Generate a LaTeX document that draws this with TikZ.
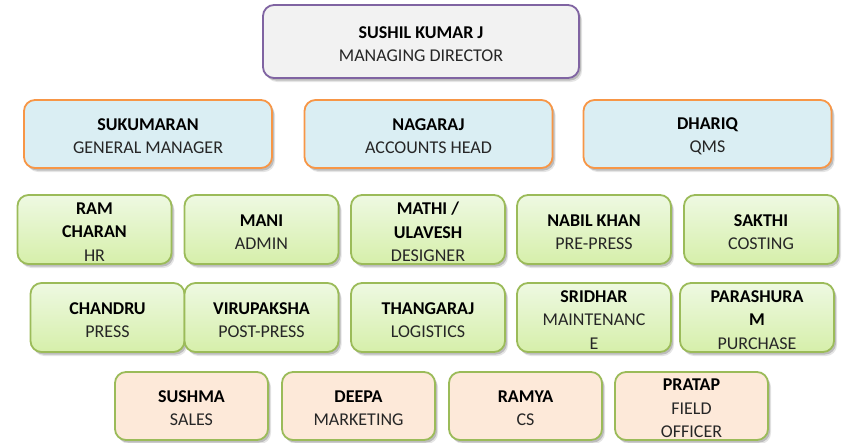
\documentclass[tikz,border=0pt]{standalone}
\usepackage{fontspec}
\setmainfont{Carlito}
\usetikzlibrary{shadows}
\definecolor{graybox}{HTML}{F2F2F2}
\definecolor{purpleline}{HTML}{8064A2}
\definecolor{bluebox}{HTML}{DAEEF3}
\definecolor{orangeline}{HTML}{F79646}
\definecolor{greentop}{HTML}{EEF9E2}
\definecolor{greenbot}{HTML}{D6EFAA}
\definecolor{greenline}{HTML}{9BBB59}
\definecolor{peachbox}{HTML}{FDE9D9}
\definecolor{titletext}{HTML}{262626}
\tikzset{
  boxbase/.style={rectangle, rounded corners=11pt, line width=1.8pt, inner sep=0pt,
    drop shadow={shadow xshift=3pt, shadow yshift=-4pt, opacity=.10, fill=black},
    drop shadow={shadow xshift=2pt, shadow yshift=-2.5pt, opacity=.18, fill=black}},
  topbox/.style={boxbase, draw=purpleline, fill=graybox, minimum width=316pt, minimum height=73pt},
  mgrbox/.style={boxbase, draw=orangeline, fill=bluebox, minimum width=248pt, minimum height=68pt},
  staffbox/.style={boxbase, draw=greenline, top color=greentop, bottom color=greenbot, minimum width=154pt, minimum height=69pt},
  salesbox/.style={boxbase, draw=greenline, fill=peachbox, minimum width=153pt, minimum height=68pt},
  txt/.style={align=center, inner sep=0pt, text=titletext, yshift=-2.5pt, font=\fontsize{18}{23.3}\selectfont},
}
\newcommand{\nm}[1]{\textbf{\color{black}#1}}
\begin{document}
\begin{tikzpicture}[x=1pt, y=-1pt]
\useasboundingbox (0,0) rectangle (842,442);
% top
\node[topbox] (md) at (421,41.5) {};
\node[txt] (mdT) at (md) {\nm{SUSHIL KUMAR J}\\MANAGING DIRECTOR};
% managers
\node[mgrbox] (gm) at (148,134) {};
\node[txt] (gmT) at (gm) {\nm{SUKUMARAN}\\GENERAL MANAGER};
\node[mgrbox] (acc) at (428.5,134) {};
\node[txt] (accT) at (acc) {\nm{NAGARAJ}\\ACCOUNTS HEAD};
\node[mgrbox] (qms) at (707.5,134) {};
\node[txt] (qmsT) at (qms) {\nm{DHARIQ}\\QMS};
% row 3
\node[staffbox] (hr) at (94.5,229.5) {};
\node[txt] (hrT) at (hr) {\nm{RAM}\\\nm{CHARAN}\\HR};
\node[staffbox] (admin) at (261.5,229.5) {};
\node[txt] (adminT) at (admin) {\nm{MANI}\\ADMIN};
\node[staffbox] (design) at (428,229.5) {};
\node[txt] (designT) at (design) {\nm{MATHI /}\\\nm{ULAVESH}\\DESIGNER};
\node[staffbox] (prepress) at (594,229.5) {};
\node[txt] (prepressT) at (prepress) {\nm{NABIL KHAN}\\PRE-PRESS};
\node[staffbox] (costing) at (761,229.5) {};
\node[txt] (costingT) at (costing) {\nm{SAKTHI}\\COSTING};
% row 4
\node[staffbox] (press) at (107.5,317.5) {};
\node[txt] (pressT) at (press) {\nm{CHANDRU}\\PRESS};
\node[staffbox] (postpress) at (261.5,317.5) {};
\node[txt] (postpressT) at (postpress) {\nm{VIRUPAKSHA}\\POST-PRESS};
\node[staffbox] (logistics) at (428,317.5) {};
\node[txt] (logisticsT) at (logistics) {\nm{THANGARAJ}\\LOGISTICS};
\node[staffbox] (maint) at (594,317.5) {};
\node[txt] (maintT) at (maint) {\nm{SRIDHAR}\\MAINTENANC\\E};
\node[staffbox] (purchase) at (757,317.5) {};
\node[txt] (purchaseT) at (purchase) {\nm{PARASHURA}\\\nm{M}\\PURCHASE};
% row 5
\node[salesbox] (sales) at (191.5,406) {};
\node[txt] (salesT) at (sales) {\nm{SUSHMA}\\SALES};
\node[salesbox] (mkt) at (358.5,406) {};
\node[txt] (mktT) at (mkt) {\nm{DEEPA}\\MARKETING};
\node[salesbox] (cs) at (525.5,406) {};
\node[txt] (csT) at (cs) {\nm{RAMYA}\\CS};
\node[salesbox] (field) at (691.5,406) {};
\node[txt] (fieldT) at (field) {\nm{PRATAP}\\FIELD\\OFFICER};
\end{tikzpicture}
\end{document}
